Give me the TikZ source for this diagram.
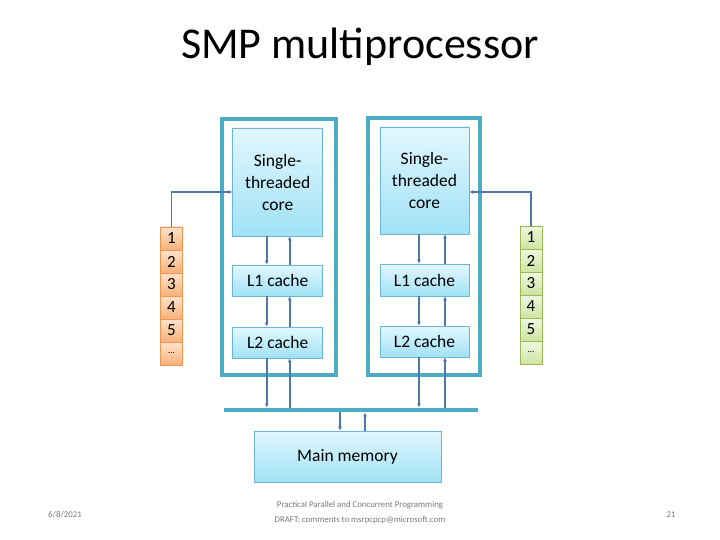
\documentclass[tikz,border=0pt]{standalone}
\usepackage{fontspec}
\setmainfont{Carlito}
\usetikzlibrary{arrows.meta, positioning, calc}

\definecolor{framecol}{RGB}{75,172,198}
\definecolor{linkcol}{RGB}{79,120,168}
\definecolor{boxtop}{RGB}{226,247,253}
\definecolor{boxbot}{RGB}{160,226,246}
\definecolor{boxline}{RGB}{110,180,215}
\definecolor{orgtop}{RGB}{253,228,205}
\definecolor{orgbot}{RGB}{248,176,120}
\definecolor{orgline}{RGB}{240,150,80}
\definecolor{grntop}{RGB}{240,247,225}
\definecolor{grnbot}{RGB}{205,228,160}
\definecolor{grnline}{RGB}{155,187,89}
\definecolor{footgrey}{RGB}{120,120,120}

\tikzset{
    unitbox/.style={draw=boxline, line width=0.6pt, top color=boxtop, bottom color=boxbot,
        align=center, font=\fontsize{17.5}{22}\selectfont, inner sep=0pt},
    cpuframe/.style={draw=framecol, line width=3.5pt, inner sep=0pt},
    regcell/.style={line width=0.6pt, minimum width=21.6pt, minimum height=23pt, inner sep=0pt,
        font=\fontsize{17}{17}\selectfont},
    orgcell/.style={regcell, draw=orgline, top color=orgtop, bottom color=orgbot},
    grncell/.style={regcell, draw=grnline, top color=grntop, bottom color=grnbot},
    link/.style={draw=linkcol, line width=1.6pt, -{Latex[length=4pt,width=4pt]}},
    footer/.style={text=footgrey, font=\fontsize{8.8}{15}\selectfont, align=center}
}

\begin{document}
\begin{tikzpicture}[x=1pt, y=-1pt]
    \useasboundingbox (0,0) rectangle (720,540);

    % --- Title ---
    \node[font=\fontsize{44}{44}\selectfont] (title) at (360,47) {SMP multiprocessor};

    % --- Processor frames ---
    \node[cpuframe, minimum width=114pt, minimum height=256pt] (frame1) at (279,247) {};
    \node[cpuframe, minimum width=112pt, minimum height=257pt] (frame2) at (424,246.5) {};

    % --- Left processor ---
    \node[unitbox, minimum width=90pt, minimum height=108pt] (core1) at (277.7,182) {Single-\\threaded\\core};
    \node[unitbox, minimum width=90pt, minimum height=31pt] (l1a) at (277.7,280.5) {L1 cache};
    \node[unitbox, minimum width=90pt, minimum height=31pt] (l2a) at (277.7,342.5) {L2 cache};

    % --- Right processor ---
    \node[unitbox, minimum width=89pt, minimum height=107pt] (core2) at (424.5,180.5) {Single-\\threaded\\core};
    \node[unitbox, minimum width=89pt, minimum height=32pt] (l1b) at (424.5,280) {L1 cache};
    \node[unitbox, minimum width=89pt, minimum height=31pt] (l2b) at (424.5,341.5) {L2 cache};

    % --- Bus and memory ---
    \node[fill=framecol, minimum width=254pt, minimum height=4.5pt, inner sep=0pt] (bus) at (351,410) {};
    \node[unitbox, minimum width=187pt, minimum height=51pt] (mem) at (347.5,456.5) {Main memory};

    % --- Register files ---
    \foreach \t [count=\i] in {1,2,3,4,5,{\fontsize{9}{9}\selectfont …}} {
        \node[orgcell] (rl\i) at (171.5,{215.5+23*\i}) {\t};
        \node[grncell] (rr\i) at (531,{214.5+23*\i}) {\t};
    }

    % --- Left processor links ---
    \draw[link] ([xshift=-11pt]core1.south) -- ([xshift=-11pt]l1a.north);
    \draw[link] ([xshift=12pt]l1a.north) -- ([xshift=12pt]core1.south);
    \draw[link] ([xshift=-11pt]l1a.south) -- ([xshift=-11pt]l2a.north);
    \draw[link] ([xshift=12pt]l2a.north) -- ([xshift=12pt]l1a.south);
    \draw[link] ([xshift=-11pt]l2a.south) -- ([xshift=-11pt]l2a.south |- bus.north);
    \draw[link] ([xshift=12pt]l2a.south |- bus.north) -- ([xshift=12pt]l2a.south);

    % --- Right processor links ---
    \draw[link] ([xshift=-5.5pt]core2.south) -- ([xshift=-5.5pt]l1b.north);
    \draw[link] ([xshift=20.5pt]l1b.north) -- ([xshift=20.5pt]core2.south);
    \draw[link] ([xshift=-5.5pt]l1b.south) -- ([xshift=-5.5pt]l2b.north);
    \draw[link] ([xshift=20.5pt]l2b.north) -- ([xshift=20.5pt]l1b.south);
    \draw[link] ([xshift=-5.5pt]l2b.south) -- ([xshift=-5.5pt]l2b.south |- bus.north);
    \draw[link] ([xshift=20.5pt]l2b.south |- bus.north) -- ([xshift=20.5pt]l2b.south);

    % --- Memory links ---
    \draw[link] ([xshift=-7.5pt]mem.north |- bus.south) -- ([xshift=-7.5pt]mem.north);
    \draw[link] ([xshift=17.5pt]mem.north) -- ([xshift=17.5pt]mem.north |- bus.south);

    % --- Register links ---
    \draw[link] (rl1.north) |- ([yshift=-10pt]core1.west);
    \draw[link] (rr1.north) |- ([yshift=-11.5pt]core2.east);

    % --- Footer ---
    \node[footer] (date) at (65,515) {6/8/2021};
    \node[footer] (credit) at (360,513) {Practical Parallel and Concurrent Programming\\DRAFT: comments to msrpcpcp@microsoft.com};
    \node[footer] (page) at (671,515) {21};
\end{tikzpicture}
\end{document}
